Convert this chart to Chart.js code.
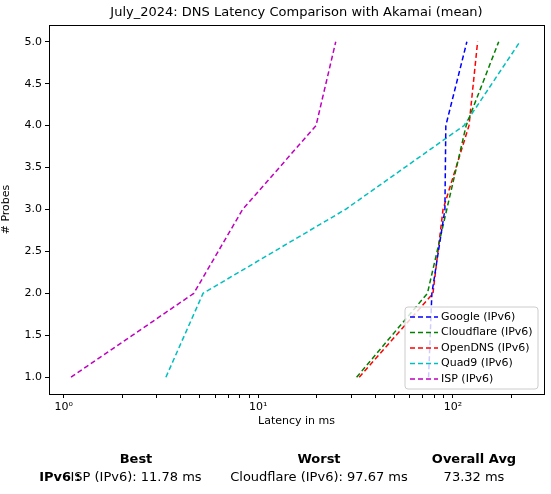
<!DOCTYPE html>
<html>
<head>
<meta charset="utf-8">
<script src="https://cdn.jsdelivr.net/npm/chart.js@4"></script>
<style>body{margin:0;background:#fff}</style>
</head>
<body>
<canvas id="chart" width="551" height="494"></canvas>
<script>
const probes = [1, 2, 3, 4, 5];
const google = [75, 78, 91, 92, 118];
const cloudflare = [32, 74, 93, 117, 172];
const opendns = [33, 79, 89, 121, 134];
const quad9 = [3.35, 5.2, 28, 114, 221];
const isp = [1.09, 4.66, 8.3, 19.8, 25];
const seriesNames = ['Google (IPv6)', 'Cloudflare (IPv6)', 'OpenDNS (IPv6)', 'Quad9 (IPv6)', 'ISP (IPv6)'];
const seriesColors = ['#0000ff', '#008000', '#ff0000', '#00bfbf', '#bf00bf'];
const summaryHead = ['Best', 'Worst', 'Overall Avg'];
const summaryRow = ['ISP (IPv6): 11.78 ms', 'Cloudflare (IPv6): 97.67 ms', '73.32 ms'];

const font = 'DejaVu Sans';
Chart.defaults.font.family = font;
Chart.defaults.color = '#000';

const allSeries = [google, cloudflare, opendns, quad9, isp];
const datasets = allSeries.map((s, i) => ({
    label: seriesNames[i],
    data: s.map((v, j) => ({x: v, y: probes[j]})),
    borderColor: seriesColors[i],
    borderDash: [5, 3],
    borderWidth: 1.5,
    pointRadius: 0,
    fill: false,
    tension: 0
}));

const extras = {
    id: 'extras',
    afterDraw(c) {
        const ctx = c.ctx, a = c.chartArea;
        ctx.save();
        // frame
        ctx.strokeStyle = '#000'; ctx.lineWidth = 1;
        ctx.strokeRect(a.left + 0.5, a.top + 0.5, a.right - a.left, a.bottom - a.top);
        // title
        ctx.fillStyle = '#000';
        ctx.textAlign = 'center'; ctx.textBaseline = 'middle';
        ctx.font = '13px ' + font;
        ctx.fillText('July_2024: DNS Latency Comparison with Akamai (mean)', (a.left + a.right) / 2, 13);
        // legend
        const lx = 405, ly = 307, lw = 133, lh = 82;
        ctx.fillStyle = 'rgba(255,255,255,0.8)';
        ctx.strokeStyle = '#ccc';
        ctx.beginPath(); ctx.roundRect(lx, ly, lw, lh, 3); ctx.fill(); ctx.stroke();
        ctx.font = '11px ' + font; ctx.textAlign = 'left';
        seriesNames.forEach((n, i) => {
            const y = ly + 10 + i * 15.5;
            ctx.strokeStyle = seriesColors[i]; ctx.lineWidth = 1.5; ctx.setLineDash([5, 3]);
            ctx.beginPath(); ctx.moveTo(lx + 5, y); ctx.lineTo(lx + 33, y); ctx.stroke();
            ctx.setLineDash([]);
            ctx.fillStyle = '#000';
            ctx.fillText(n, lx + 36, y);
        });
        // summary table
        const cols = [136, 319, 474];
        ctx.textAlign = 'center';
        ctx.font = 'bold 13px ' + font;
        summaryHead.forEach((h, i) => ctx.fillText(h, cols[i], 460));
        ctx.fillText('IPv6 :', 60, 478);
        ctx.font = '13px ' + font;
        summaryRow.forEach((t, i) => ctx.fillText(t, cols[i], 478));
        ctx.restore();
    }
};

new Chart(document.getElementById('chart').getContext('2d'), {
    type: 'line',
    data: {datasets},
    options: {
        responsive: false,
        animation: false,
        layout: {padding: {top: 25, right: 7, bottom: 62, left: 0}},
        plugins: {legend: {display: false}, tooltip: {enabled: false}},
        scales: {
            x: {
                type: 'logarithmic', min: 0.84, max: 294,
                afterBuildTicks: ax => {
                    const t = [];
                    [1, 10, 100].forEach(d => { for (let k = 1; k < 10; k++) if (d * k <= 294) t.push({value: d * k}); });
                    ax.ticks = t;
                },
                afterFit: ax => { ax.height = 38; },
                ticks: {
                    autoSkip: false, maxRotation: 0, font: {size: 11},
                    callback: v => ({1: '10⁰', 10: '10¹', 100: '10²'})[v] || ''
                },
                grid: {drawOnChartArea: false, tickLength: 4, color: '#000'},
                border: {color: '#000'},
                title: {display: true, text: 'Latency in ms', font: {size: 11}, padding: {top: 4}}
            },
            y: {
                type: 'linear', min: 0.8, max: 5.2,
                afterBuildTicks: ax => { ax.ticks = [1, 1.5, 2, 2.5, 3, 3.5, 4, 4.5, 5].map(v => ({value: v})); },
                afterFit: ax => { ax.width = 49; },
                ticks: {font: {size: 11}, callback: v => Number(v).toFixed(1)},
                grid: {drawOnChartArea: false, tickLength: 4, color: '#000'},
                border: {color: '#000'},
                title: {display: true, text: '# Probes', font: {size: 11}, padding: 0}
            }
        }
    },
    plugins: [extras]
});
</script>
</body>
</html>
